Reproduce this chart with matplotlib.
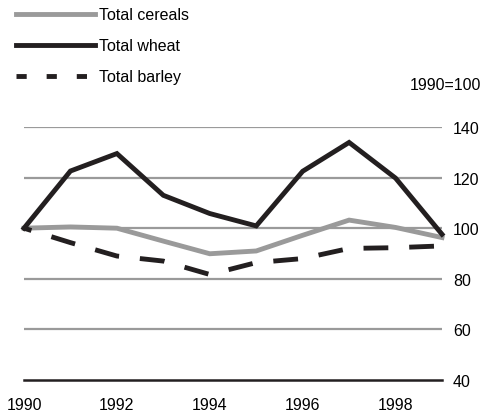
import matplotlib
matplotlib.use("Agg")
import matplotlib.pyplot as plt
from matplotlib.lines import Line2D

years = [1990, 1991, 1992, 1993, 1994, 1995, 1996, 1997, 1998, 1999]
cereals = [100, 100.5, 100, 94.9, 89.9, 91, 97.2, 103.2, 100.3, 96.3]
wheat = [100, 122.6, 129.5, 113, 105.8, 100.9, 122.5, 133.9, 119.8, 97.6]
barley = [100, 94.3, 89, 87, 81.7, 86.4, 88, 92, 92.3, 93]
yticks = [40, 60, 80, 100, 120, 140]
xticks = [1990, 1992, 1994, 1996, 1998]

plt.rcParams['font.family'] = ['Liberation Sans', 'DejaVu Sans']
FS = 11.5
plt.rcParams['font.size'] = FS

W, H = 482, 414
fig = plt.figure(figsize=(W / 100, H / 100), dpi=100)
ax = fig.add_axes([24 / W, 1 - 381 / H, (442 - 24) / W, (381 - 128) / H])

dark = '#231f20'
grey = '#9a9a9a'
LW = 3.5

for y in yticks[1:]:
    ax.axhline(y, color=grey, lw=1.6, zorder=1)

ax.plot(years, cereals, color=grey, lw=LW, zorder=3, clip_on=False,
        solid_joinstyle='miter')
ax.plot(years, wheat, color=dark, lw=LW, zorder=4, clip_on=False,
        solid_joinstyle='miter')
ax.plot(years, barley, color=dark, lw=LW, zorder=3, clip_on=False,
        linestyle=(3.5, (5.1, 4.3)), dash_capstyle='butt')

ax.set_xlim(1990, 1999)
ax.set_ylim(40, 140)
ax.set_xticks(xticks)
ax.set_xticklabels([str(x) for x in xticks])
ax.set_yticks(yticks)
ax.yaxis.tick_right()
ax.tick_params(axis='y', length=0, pad=8, labelsize=FS)
ax.tick_params(axis='x', length=0, pad=12, labelsize=FS)
for s in ['top', 'left', 'right']:
    ax.spines[s].set_visible(False)
ax.spines['bottom'].set_color(dark)
ax.spines['bottom'].set_linewidth(1.8)
ax.set_facecolor('none')

fig.text(481 / W, 1 - 85 / H, '1990=100', ha='right', va='center', fontsize=FS)

handles = [
    Line2D([], [], color=grey, lw=LW),
    Line2D([], [], color=dark, lw=LW),
    Line2D([], [], color=dark, lw=LW, linestyle=(0, (2.1, 4.1)), dash_capstyle='butt'),
]
labels = ['Total cereals', 'Total wheat', 'Total barley']
fig.legend(handles, labels, loc='upper left', bbox_to_anchor=(2 / W, 1 + 6 / H),
           frameon=False, handlelength=4.95, handletextpad=0.25, labelspacing=1.0,
           fontsize=FS)

fig.savefig('out.png', dpi=100)
